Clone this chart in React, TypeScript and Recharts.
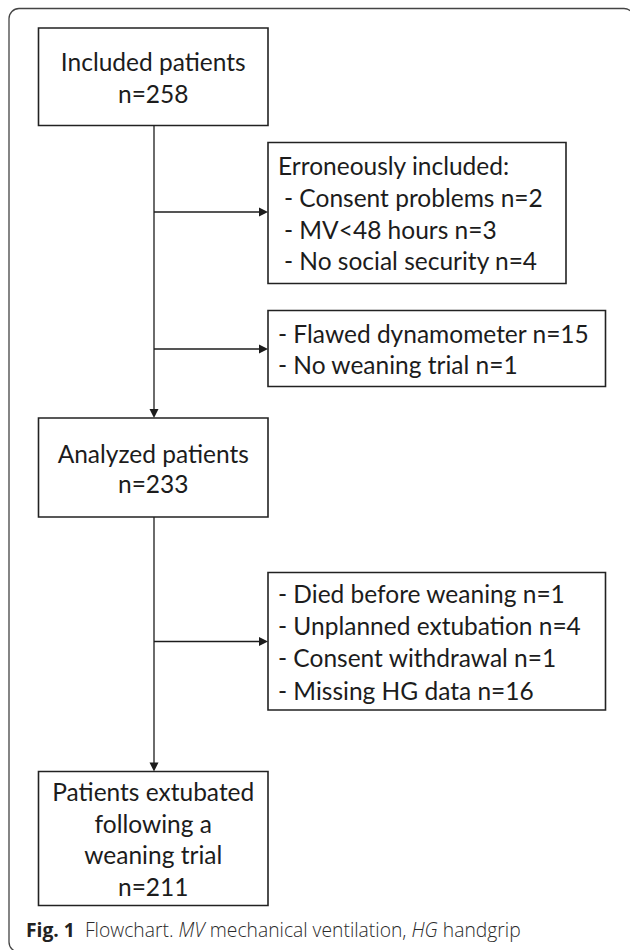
import React from "react";
import {
  ScatterChart,
  Scatter,
  XAxis,
  YAxis,
  ReferenceArea,
  ReferenceLine,
} from "recharts";

// flowchart content
const includedLines = ["Included patients", "n=258"];
const erroneousLines = [
  "Erroneously included:",
  "- Consent problems n=2",
  "- MV<48 hours n=3",
  "- No social security n=4",
];
const flawedLines = ["- Flawed dynamometer n=15", "- No weaning trial n=1"];
const analyzedLines = ["Analyzed patients", "n=233"];
const droppedLines = [
  "- Died before weaning n=1",
  "- Unplanned extubation n=4",
  "- Consent withdrawal n=1",
  "- Missing HG data n=16",
];
const extubatedLines = ["Patients extubated", "following a", "weaning trial", "n=211"];

// layout in page pixels (x right, y down)
const W = 630;
const H = 950;
const MAIN_X = 154;
const boxes = [
  { lines: includedLines, x1: 38.5, x2: 268, y1: 28, y2: 125.5, align: "middle", y0: 61.5, step: 32, indent: [0, 0] },
  { lines: erroneousLines, x1: 268, x2: 566, y1: 142.5, y2: 283.5, align: "start", y0: 165.5, step: 31.8, indent: [0, 6, 6, 6] },
  { lines: flawedLines, x1: 268, x2: 605.5, y1: 310.5, y2: 386.5, align: "start", y0: 333, step: 31, indent: [0, 0] },
  { lines: analyzedLines, x1: 38.5, x2: 268, y1: 418, y2: 517, align: "middle", y0: 453, step: 30, indent: [0, 0] },
  { lines: droppedLines, x1: 268, x2: 605.5, y1: 572.5, y2: 710, align: "start", y0: 593.5, step: 32.2, indent: [0, 0, 0, 0] },
  { lines: extubatedLines, x1: 38.5, x2: 268, y1: 771.5, y2: 905.5, align: "middle", y0: 791.5, step: 31.7, indent: [0, 0, 0, 0] },
];

const mainSegments = [
  [125.5, 418],
  [517, 771.5],
];
const sideArrowY = [212, 349, 641.5];
const downArrowY = [418, 771.5];

const textPoints = boxes.flatMap((b) =>
  b.lines.map((label, i) => ({
    x: b.align === "middle" ? (b.x1 + b.x2) / 2 : b.x1 + 10 + b.indent[i],
    y: b.y0 + i * b.step,
    label,
    anchor: b.align,
  }))
);

const arrowPoints = [
  ...sideArrowY.map((y) => ({ x: 268, y, dir: "right" })),
  ...downArrowY.map((y) => ({ x: MAIN_X, y, dir: "down" })),
];

const captionPoint = [{ x: 26, y: 929 }];

const INK = "#1c1c1c";
const BOXFONT = "Lato, 'Open Sans', sans-serif";

const TextLine = (props: any) => {
  const { cx, cy, payload } = props;
  return (
    <text
      x={cx}
      y={cy}
      textAnchor={payload.anchor}
      dominantBaseline="central"
      fontFamily={BOXFONT}
      fontSize={24.5}
      fill={INK}
    >
      {payload.label}
    </text>
  );
};

const ArrowHead = (props: any) => {
  const { cx, cy, payload } = props;
  const L = 9;
  const h = 4.5;
  const d =
    payload.dir === "right"
      ? `M${cx},${cy} L${cx - L},${cy - h} L${cx - L},${cy + h} Z`
      : `M${cx},${cy} L${cx - h},${cy - L} L${cx + h},${cy - L} Z`;
  return <path d={d} fill={INK} />;
};

// frame: only left/top edges and the corners that show inside the page
const Frame = (p: any) => {
  const { x, y, width, height } = p;
  const r = 10;
  const R = x + width;
  const B = y + height;
  const d = `M${R},${y + r + 20} L${R},${y + r} A${r},${r} 0 0 0 ${R - r},${y} L${x + r},${y} A${r},${r} 0 0 0 ${x},${y + r} L${x},${B - r} A${r},${r} 0 0 0 ${x + r},${B} L${x + 60},${B}`;
  return <path d={d} fill="none" stroke="#444" strokeWidth={1.3} />;
};

const Caption = (props: any) => {
  const { cx, cy } = props;
  return (
    <text
      x={cx}
      y={cy}
      dominantBaseline="central"
      fontFamily="'Open Sans', 'Noto Sans', sans-serif"
      fontSize={19.3}
      fill="#2b2b2b"
    >
      <tspan fontWeight={700} fill="#222">Fig. 1</tspan>
      <tspan fontWeight={300} dx={10}>Flowchart. </tspan>
      <tspan fontWeight={300} fontStyle="italic">MV</tspan>
      <tspan fontWeight={300}> mechanical ventilation, </tspan>
      <tspan fontWeight={300} fontStyle="italic">HG</tspan>
      <tspan fontWeight={300}> handgrip</tspan>
    </text>
  );
};

export default function App() {
  return (
    <div style={{ position: "absolute", left: 0, top: 0, background: "#fff" }}>
      <ScatterChart width={W} height={H} margin={{ top: 0, right: 0, bottom: 0, left: 0 }}>
        <XAxis type="number" dataKey="x" domain={[0, W]} hide allowDataOverflow />
        <YAxis type="number" dataKey="y" domain={[0, H]} reversed hide allowDataOverflow />

        {/* outer figure frame, runs off the right and bottom edges */}
        <ReferenceArea
          x1={9}
          x2={634}
          y1={8.5}
          y2={952}
          ifOverflow="visible"
          shape={Frame}
        />

        {mainSegments.map(([a, b], i) => (
          <ReferenceLine
            key={`m${i}`}
            segment={[
              { x: MAIN_X, y: a },
              { x: MAIN_X, y: b - 8 },
            ]}
            stroke={INK}
            strokeWidth={1.3}
          />
        ))}
        {sideArrowY.map((y, i) => (
          <ReferenceLine
            key={`s${i}`}
            segment={[
              { x: MAIN_X, y },
              { x: 268 - 8, y },
            ]}
            stroke={INK}
            strokeWidth={1.3}
          />
        ))}

        {boxes.map((b, i) => (
          <ReferenceArea
            key={`b${i}`}
            x1={b.x1}
            x2={b.x2}
            y1={b.y1}
            y2={b.y2}
            fill="#fff"
            fillOpacity={1}
            stroke="#222"
            strokeWidth={1.6}
          />
        ))}

        <Scatter data={arrowPoints} shape={ArrowHead} isAnimationActive={false} />
        <Scatter data={textPoints} shape={TextLine} isAnimationActive={false} />
        <Scatter data={captionPoint} shape={Caption} isAnimationActive={false} />
      </ScatterChart>
    </div>
  );
}
